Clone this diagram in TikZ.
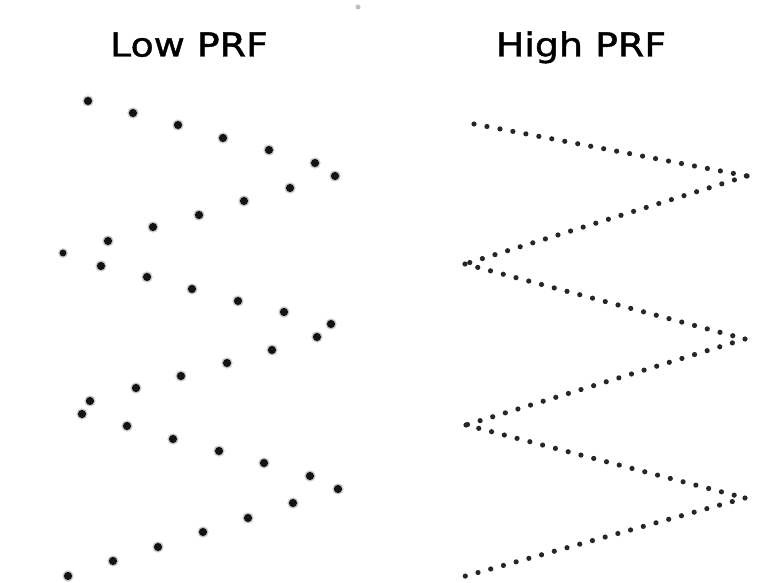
\documentclass[tikz,border=0pt]{standalone}
\usepackage{fontspec}
\newfontfamily\headfont[FakeStretch=1.15,FakeBold=1.3]{DejaVu Sans}
\tikzset{
	heading/.style={font=\headfont\fontsize{33}{40}\selectfont, anchor=base, inner sep=0pt},
	halo/.style={fill=black!22},
	echo/.style={fill=black!92},
	sweep/.style={draw=black!85, line width=5.2pt, line cap=round, dash pattern=on 0pt off 13.2pt},
}

\begin{document}
\begin{tikzpicture}[x=1pt,y=-1pt]
\useasboundingbox (0,0) rectangle (771,583);
% the headings
\node[heading] (low) at (189,56.5) {Low PRF};
\node[heading] (high) at (581,56.5) {High PRF};
\fill[black!25] (358,7) circle (2.5);

% low PRF, one dot per pulse
\foreach \x/\y in {88/101, 133/113, 178/125, 223/138, 269/150, 315/163, 335/176,
	290/188, 244/201, 199/215, 153/227, 108/241,
	101/266, 147/277, 192/289, 238/301, 284/312, 331/324,
	317/337, 272/350, 227/363, 181/376, 136/388, 90/401,
	82/414, 127/426, 173/439, 219/451, 264/463, 310/476, 338/489,
	293/503, 248/518, 203/532, 158/547, 113/561, 68/576}
	{\fill[halo] (\x,\y) circle (5.6);
	\fill[echo] (\x,\y) circle (4.1);}
\fill[halo] (63,253) circle (4.8);
\fill[echo] (63,253) circle (3.4);

% high PRF, the zigzag
\coordinate (z0) at (474,124);
\coordinate (z1) at (747,176);
\coordinate (z2) at (465,264);
\coordinate (z3) at (745,339);
\coordinate (z4) at (466,425);
\coordinate (z5) at (745,498);
\coordinate (z6) at (462,577);
\foreach \a/\b in {z0/z1, z1/z2, z2/z3, z3/z4, z4/z5, z5/z6}
	\draw[sweep] (\a) -- (\b);
\end{tikzpicture}
\end{document}
